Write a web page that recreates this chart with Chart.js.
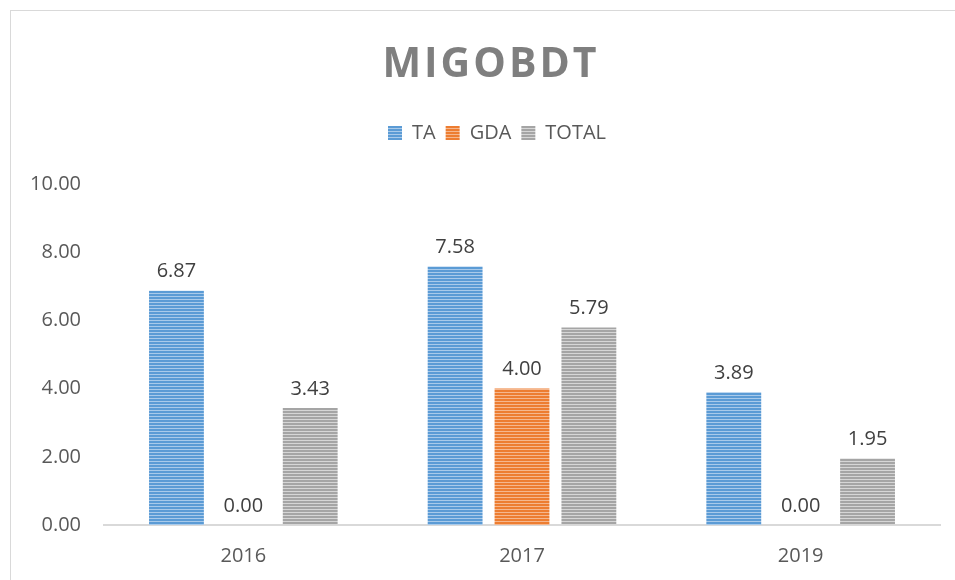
<!DOCTYPE html>
<html>
<head>
<meta charset="utf-8">
<script src="https://cdn.jsdelivr.net/npm/chart.js@4/dist/chart.umd.min.js"></script>
<style>
    html, body { margin: 0; padding: 0; background: #fff; overflow: hidden; }
    #wrap { position: relative; width: 955px; height: 580px; overflow: hidden; }
    #frame { position: absolute; left: 10px; top: 10px; width: 980px; height: 620px; border: 1px solid #d9d9d9; }
    #title { position: absolute; left: 0; top: 33px; width: 982px; text-align: center;
             font: bold 41px "Open Sans", sans-serif; letter-spacing: 3px; color: #7f7f7f; }
    #chart { position: absolute; left: 0; top: 0; }
</style>
</head>
<body>
<div id="wrap">
    <div id="frame"></div>
    <canvas id="chart" width="955" height="580"></canvas>
    <div id="title">MIGOBDT</div>
</div>
<script>
const years = ["2016", "2017", "2019"]
const taValues = [6.87, 7.58, 3.89]
const gdaValues = [0.00, 4.00, 0.00]
const totalValues = [3.43, 5.79, 1.95]
const yTicks = [0, 2, 4, 6, 8, 10]

// horizontal stripe fill like the office "narrow horizontal" pattern
function stripes(color, light) {
    let c = document.createElement("canvas")
    c.width = 4
    c.height = 3
    let g = c.getContext("2d")
    g.fillStyle = color
    g.fillRect(0, 0, 4, 2)
    g.fillStyle = light
    g.fillRect(0, 2, 4, 1)
    return g.createPattern(c, "repeat")
}

const fontName = '"Open Sans", sans-serif'

// value labels above each bar
const barLabels = {
    id: "barLabels",
    afterDatasetsDraw(chart) {
        let ctx = chart.ctx
        ctx.save()
        ctx.font = "20px " + fontName
        ctx.fillStyle = "#404040"
        ctx.textAlign = "center"
        ctx.textBaseline = "bottom"
        chart.data.datasets.forEach((ds, i) => {
            chart.getDatasetMeta(i).data.forEach((bar, j) => {
                ctx.fillText(ds.data[j].toFixed(2), bar.x, bar.y - 9)
            })
        })
        ctx.restore()
    }
}

// push the plot area down below the legend, and nudge legend right
const legendGap = {
    id: "legendGap",
    beforeInit(chart) {
        let fit = chart.legend.fit
        chart.legend.fit = function () {
            fit.call(this)
            this.height += 31
        }
    },
    afterLayout(chart) {
        chart.legend.left += 22
        chart.legend.right += 22
    }
}

const ctx = document.getElementById("chart")
const chart = new Chart(ctx, {
    type: "bar",
    data: {
        labels: years,
        datasets: [
            { label: "TA", data: taValues, backgroundColor: stripes("#5b9bd5", "#a9caea") },
            { label: "GDA", data: gdaValues, backgroundColor: stripes("#ed7d31", "#f5b78e") },
            { label: "TOTAL", data: totalValues, backgroundColor: stripes("#a5a5a5", "#d6d6d6") }
        ]
    },
    options: {
        responsive: false,
        animation: false,
        layout: { padding: { left: 10, right: 15, top: 113, bottom: 0 } },
        datasets: {
            bar: { categoryPercentage: 0.72, barPercentage: 0.82 }
        },
        scales: {
            x: {
                grid: { display: false, drawTicks: false },
                border: { color: "#d9d9d9", width: 2 },
                ticks: { color: "#595959", font: { family: fontName, size: 20 }, padding: 19 },
                afterFit: function (scale) { scale.height = 55 }
            },
            y: {
                min: 0,
                max: 10,
                afterBuildTicks: function (scale) { scale.ticks = yTicks.map(v => ({ value: v })) },
                grid: { display: false, drawTicks: false },
                border: { display: false },
                ticks: {
                    color: "#595959",
                    font: { family: fontName, size: 20 },
                    padding: 23,
                    callback: function (value) { return Number(value).toFixed(2) }
                },
                afterFit: function (scale) { scale.width = 94 }
            }
        },
        plugins: {
            legend: {
                position: "top",
                labels: {
                    color: "#595959",
                    font: { family: fontName, size: 20 },
                    boxWidth: 14,
                    boxHeight: 14,
                    padding: 10
                }
            },
            tooltip: { enabled: false }
        }
    },
    plugins: [barLabels, legendGap]
})
</script>
</body>
</html>
